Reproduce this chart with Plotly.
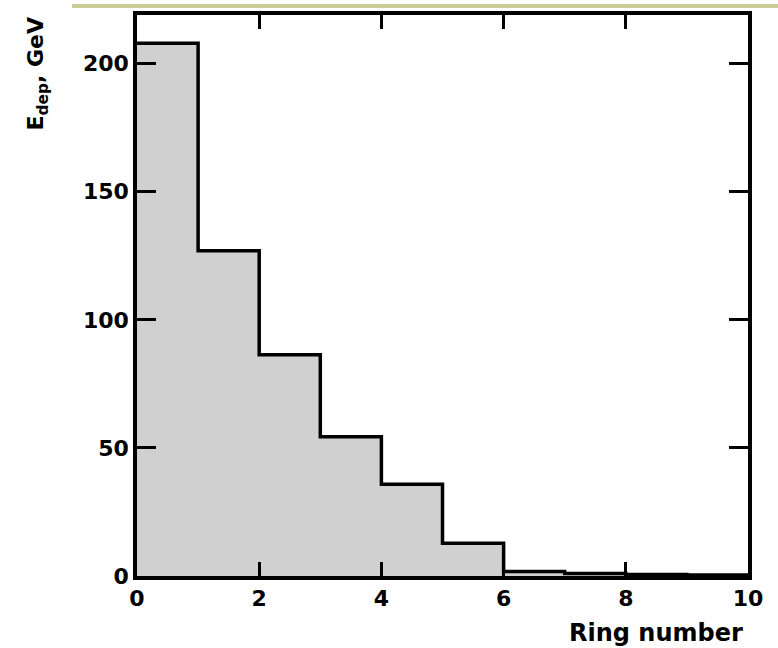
import plotly.graph_objects as go

# Data: energy deposited per ring (GeV)
ring_edges = [0, 1, 2, 3, 4, 5, 6, 7, 8, 9, 10]
edep_gev = [208, 127, 86.4, 54.4, 35.8, 12.8, 1.8, 1.0, 0.6, 0.4]
x_ticks = [0, 2, 4, 6, 8, 10]
y_ticks = [0, 50, 100, 150, 200]

W, H = 778, 648
L, R, T, B = 137, 30, 11, 72
pw, ph = W - L - R, H - T - B

def px_to_paper_x(px):
    return (px - L) / pw

def px_to_paper_y(py):
    return (H - B - py) / ph

FAMILY = "DejaVu Sans, Liberation Sans, Arial, sans-serif"

fig = go.Figure()
fig.add_trace(go.Scatter(
    x=ring_edges,
    y=edep_gev + [edep_gev[-1]],
    mode="lines",
    line=dict(shape="hv", color="black", width=3.5),
    fill="tozeroy",
    fillcolor="rgb(208,208,208)",
    showlegend=False,
    hoverinfo="skip",
))

font_tick = dict(family=FAMILY, size=22, color="black", weight="bold")

fig.update_layout(
    width=W, height=H,
    margin=dict(l=L, r=R, t=T, b=B),
    paper_bgcolor="white", plot_bgcolor="white",
    xaxis=dict(range=[0, 10], tickvals=x_ticks, ticktext=[str(v) for v in x_ticks],
               ticks="inside", ticklen=14, tickwidth=3, tickcolor="black",
               showline=True, linewidth=3.5, linecolor="black", mirror="ticks",
               showgrid=False, zeroline=False, tickfont=font_tick),
    yaxis=dict(range=[0, 219], tickvals=y_ticks, ticktext=[str(v) for v in y_ticks],
               ticks="inside", ticklen=19, tickwidth=3, tickcolor="black",
               showline=True, linewidth=3.5, linecolor="black", mirror="ticks",
               showgrid=False, zeroline=False, tickfont=font_tick),
    annotations=[
        dict(text="Ring number", xref="paper", yref="paper",
             x=px_to_paper_x(745), y=px_to_paper_y(633), xanchor="right", yanchor="middle",
             showarrow=False, font=dict(family=FAMILY, size=24, color="black", weight="bold")),
        dict(text="E<sub>dep</sub>, GeV", xref="paper", yref="paper",
             x=px_to_paper_x(38), y=px_to_paper_y(70), xanchor="center", yanchor="middle",
             textangle=-90, showarrow=False,
             font=dict(family=FAMILY, size=22, color="black", weight="bold")),
    ],
    shapes=[
        dict(type="rect", xref="paper", yref="paper",
             x0=px_to_paper_x(72), x1=px_to_paper_x(778),
             y0=px_to_paper_y(4), y1=px_to_paper_y(0),
             fillcolor="rgb(204,204,153)", line=dict(width=0), layer="above"),
    ],
)

fig.write_html("out.html")
